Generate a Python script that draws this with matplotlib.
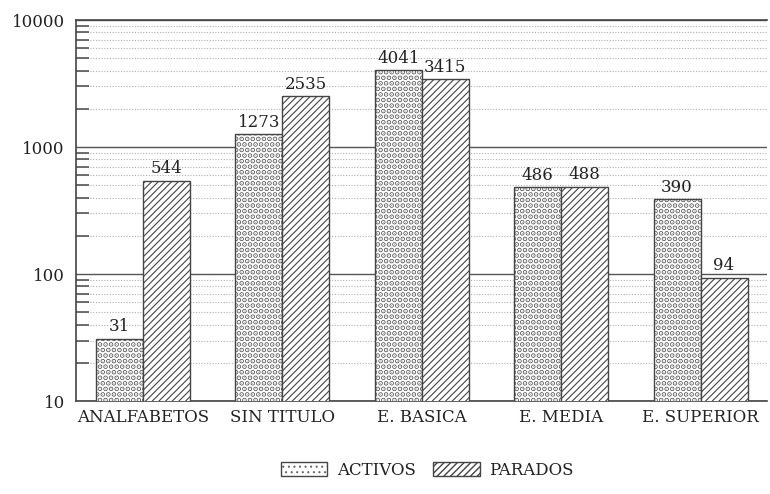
import numpy as np
import matplotlib
matplotlib.use("Agg")
import matplotlib.pyplot as plt
import matplotlib.hatch
from matplotlib.patches import Patch
from matplotlib.ticker import LogLocator, FixedLocator, NullFormatter

# Data
categories = ["ANALFABETOS", "SIN TITULO", "E. BASICA", "E. MEDIA", "E. SUPERIOR"]
activos = [31, 1273, 4041, 486, 390]
parados = [544, 2535, 3415, 488, 94]
series_names = ["ACTIVOS", "PARADOS"]
y_ticks = [10, 100, 1000, 10000]

plt.rcParams['font.family'] = ['DejaVu Serif']
plt.rcParams['hatch.color'] = '#111111'
# smaller dot shape so the stroked hatch dots look solid
matplotlib.hatch.SmallFilledCircles.size = 0.06

ink = '#222222'
fs = 12
fig = plt.figure(figsize=(7.7, 4.94), dpi=100)
ax = fig.add_axes([0.0987, 0.188, 0.898, 0.7715])

x = np.arange(len(categories))
w = 0.337
dots = '...'
lines = '/////'

with plt.rc_context({'hatch.linewidth': 2.6}):
    b1 = ax.bar(x - w / 2, activos, w, color='white', edgecolor='#444444',
                linewidth=1.0, hatch=dots, zorder=3)
    h1 = Patch(facecolor='white', edgecolor='#444444', hatch=dots, label=series_names[0])
with plt.rc_context({'hatch.linewidth': 0.8}):
    b2 = ax.bar(x + w / 2, parados, w, color='white', edgecolor='#444444',
                linewidth=1.0, hatch=lines, zorder=3)
    h2 = Patch(facecolor='white', edgecolor='#444444', hatch=lines, label=series_names[1])

ax.set_yscale('log')
ax.set_ylim(10, 10000)
ax.set_xlim(-0.48, len(categories) - 0.52)

# value labels
for bars, vals in ((b1, activos), (b2, parados)):
    for r, v in zip(bars, vals):
        ax.text(r.get_x() + r.get_width() / 2, v * 1.06, str(v), ha='center',
                va='bottom', fontsize=fs, color=ink)

ax.yaxis.set_major_locator(FixedLocator(y_ticks))
ax.set_yticklabels([str(t) for t in y_ticks])
ax.yaxis.set_minor_locator(LogLocator(base=10, subs=np.arange(2, 10)))
ax.yaxis.set_minor_formatter(NullFormatter())

ax.grid(which='major', axis='y', color='#555555', linewidth=1.0, zorder=1)
ax.grid(which='minor', axis='y', color='#b0b0b0', linewidth=0.8,
        linestyle=(0, (1, 1.5)), zorder=1)

ax.tick_params(axis='y', which='major', length=0, pad=8, labelsize=fs, colors=ink)
ax.tick_params(axis='y', which='minor', direction='in', length=9, width=1.2, color='#555555')
ax.set_xticks(x)
ax.set_xticklabels(categories)
ax.tick_params(axis='x', length=0, pad=6, labelsize=fs, colors=ink)

for s in ['left', 'bottom', 'top']:
    ax.spines[s].set_color('#444444')
    ax.spines[s].set_linewidth(1.2)
ax.spines['right'].set_visible(False)

fig.legend(handles=[h1, h2], loc='lower center', bbox_to_anchor=(0.555, 0.0),
           ncol=2, frameon=False, fontsize=fs, handlelength=2.8, handleheight=0.9,
           columnspacing=1.0, handletextpad=0.6, labelcolor=ink)

fig.savefig('out.png', dpi=100)
